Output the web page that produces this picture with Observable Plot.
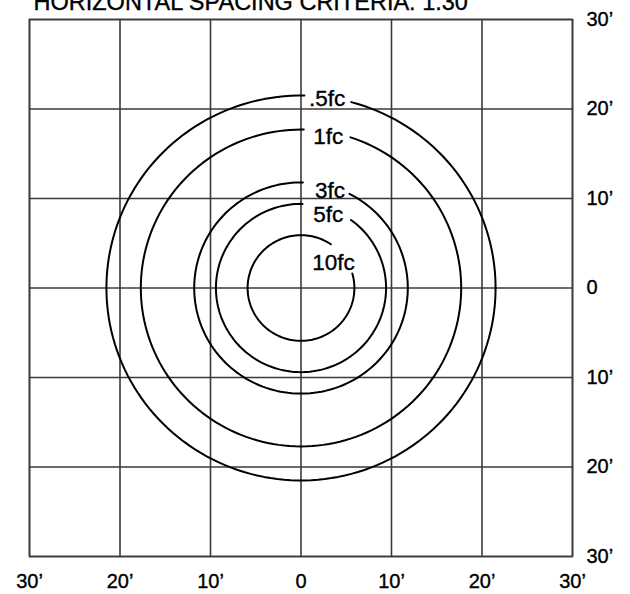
<!DOCTYPE html>
<html><head><meta charset="utf-8">
<script src="https://cdn.jsdelivr.net/npm/d3@7"></script>
<script src="https://cdn.jsdelivr.net/npm/@observablehq/plot@0.6"></script>
<style>body{margin:0;background:#fff} #chart svg text{stroke:#000;stroke-width:0.35px}</style>
</head><body><div id="chart"></div>
<script>
// ---- data ----
const title = "HORIZONTAL SPACING CRITERIA: 1.30";
const tickValues = [-30, -20, -10, 0, 10, 20, 30];
const levels = [".5fc", "1fc", "3fc", "5fc", "10fc"];
const radii = [21.5, 17.7, 11.8, 9.4, 5.9];       // feet
const gapStart = [1, 1, 1, 1, 34];                 // degrees clockwise from top
const gapEnd = [15, 18, 27, 36, 74];
const labelX = [2.9, 3.0, 3.2, 3.0, 3.6];
const labelY = [21.1, 16.9, 10.9, 8.2, 2.8];

// arc geometry (circle outline with a gap for the label)
const arcs = levels.flatMap((lv, i) => {
  const pts = [];
  const a0 = gapEnd[i], a1 = 360 + gapStart[i];
  for (let a = a0; a < a1; a += 2) pts.push(a);
  pts.push(a1);
  return pts.map(a => ({
    level: lv,
    x: radii[i] * Math.sin(a * Math.PI / 180),
    y: radii[i] * Math.cos(a * Math.PI / 180)
  }));
});
const labels = levels.map((lv, i) => ({level: lv, x: labelX[i], y: labelY[i]}));
const fmt = d => d === 0 ? "0" : Math.abs(d) + "\u2019";

const chart = Plot.plot({
  width: 630,
  height: 594,
  marginLeft: 29,
  marginRight: 58,
  marginTop: 19,
  marginBottom: 38,
  style: {fontFamily: "Arial, 'Liberation Sans', sans-serif", fontSize: "20px", color: "#000", background: "#fff"},
  x: {domain: [-30, 30], axis: null},
  y: {domain: [-30, 30], axis: null},
  marks: [
    Plot.ruleX(tickValues, {stroke: "#3a3a3a", strokeWidth: 1.6}),
    Plot.ruleY(tickValues, {stroke: "#3a3a3a", strokeWidth: 1.6}),
    Plot.frame({stroke: "#3a3a3a", strokeWidth: 1.6}),
    Plot.line(arcs, {x: "x", y: "y", z: "level", stroke: "#000", strokeWidth: 2, curve: "linear"}),
    Plot.text(labels, {x: "x", y: "y", text: "level", fontSize: 22.5, fill: "#000", textAnchor: "middle", lineAnchor: "middle"}),
    Plot.axisX(tickValues, {anchor: "bottom", label: null, tickSize: 0, tickPadding: 17, fontSize: 20, tickFormat: fmt, fill: "#000"}),
    Plot.axisY(tickValues, {anchor: "right", label: null, tickSize: 0, tickPadding: 14, fontSize: 20, tickFormat: fmt, fill: "#000"}),
    Plot.text([title], {frameAnchor: "top-left", textAnchor: "start", lineAnchor: "bottom", dx: 4, dy: -9.5, fontSize: 23.5, fill: "#000"})
  ]
});
document.getElementById("chart").appendChild(chart);
</script>
</body></html>
